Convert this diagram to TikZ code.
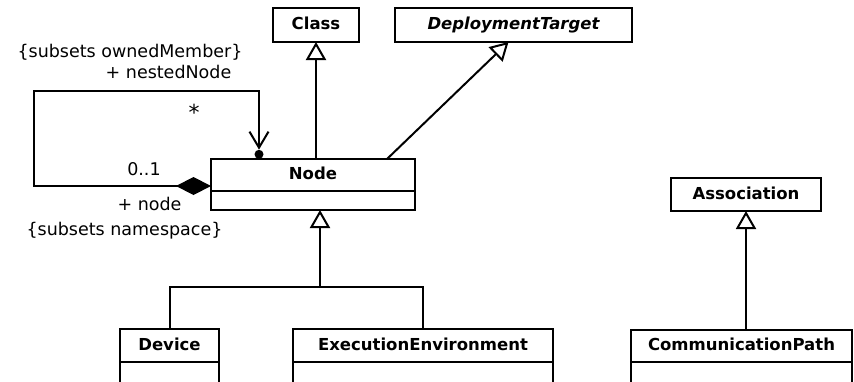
\documentclass[tikz,border=0pt]{standalone}
\usepackage{fontspec}
\setmainfont{DejaVu Sans}
\usepackage{tikz}
\usetikzlibrary{arrows.meta, positioning}

\tikzset{
  cls/.style={draw, line width=2pt, outer sep=0pt, inner sep=0pt, font=\fontsize{16.5}{18}\selectfont\bfseries, text height=12pt, text depth=3pt},
  attr/.style={draw, line width=2pt, outer sep=0pt, inner sep=0pt},
  lbl/.style={font=\fontsize{17.5}{20}\selectfont, inner sep=0pt, anchor=base},
  dot/.style={circle, fill, inner sep=0pt, minimum size=9pt, anchor=south},
  gen/.style={line width=2pt, -{Triangle[open, length=18pt, width=20pt, fill=white]}},
  assoc/.style={line width=2pt},
}

\begin{document}
\begin{tikzpicture}[x=1pt, y=-1pt]
  \useasboundingbox (0,0) rectangle (854,381);
  \clip (0,0) rectangle (854,381);
  \node (Class) [cls, minimum width=86pt, minimum height=34pt] at (316,25) {Class};
  \node (DT) [cls, minimum width=237pt, minimum height=34pt] at (513.5,25) {\itshape DeploymentTarget};
  \node (Node-name) [cls, minimum width=204pt, minimum height=32pt] at (313,175) {Node};
  \node (Node-attr) [attr, minimum width=204pt, minimum height=19pt, below=0pt of Node-name] {};
  \node (Association) [cls, minimum width=150pt, minimum height=33pt] at (746,194.5) {Association};
  \node (Device) [cls, minimum width=99pt, minimum height=33pt] at (169.5,345.5) {Device};
  \node (Device-attr) [attr, minimum width=99pt, minimum height=40pt, below=0pt of Device] {};
  \node (EE) [cls, minimum width=260pt, minimum height=33pt] at (423,345.5) {ExecutionEnvironment};
  \node (EE-attr) [attr, minimum width=260pt, minimum height=40pt, below=0pt of EE] {};
  \node (CP) [cls, minimum width=221pt, minimum height=32pt] at (741.5,346) {CommunicationPath};
  \node (CP-attr) [attr, minimum width=221pt, minimum height=40pt, below=0pt of CP] {};

  \draw[gen] (Class.south |- Node-name.north) -- (Class.south);
  \draw[gen] ([xshift=74pt]Node-name.north) -- ([xshift=-5pt]DT.south);
  \coordinate (hub) at (320,287);
  \draw[assoc] (Device.north) |- (hub) -| (EE.north);
  \draw[gen] (hub) -- (hub |- Node-attr.south);
  \draw[gen] (CP.north -| Association.south) -- (Association.south);

  \coordinate (Node-left) at ([yshift=5pt]Node-name.south west);
  \node (own) [dot] at ([xshift=-54pt]Node-name.north) {};
  \coordinate (loop) at (34,91);
  \draw[assoc, {Diamond[length=35pt, width=18pt]}-{Straight Barb[length=16pt, width=19pt]}] (Node-left) -| (loop) -| (own.north);

  \node (ownedMember) [lbl] at (130,57) {\{subsets ownedMember\}};
  \node (nestedNode) [lbl] at (168.5,78) {+ nestedNode};
  \node (many) [lbl, font=\fontsize{22}{24}\selectfont] at (194,120) {*};
  \node (zeroOne) [lbl] at (144,175) {0..1};
  \node (nodeRole) [lbl] at (149.5,210) {+ node};
  \node (namespace) [lbl] at (124.5,235) {\{subsets namespace\}};
\end{tikzpicture}
\end{document}
